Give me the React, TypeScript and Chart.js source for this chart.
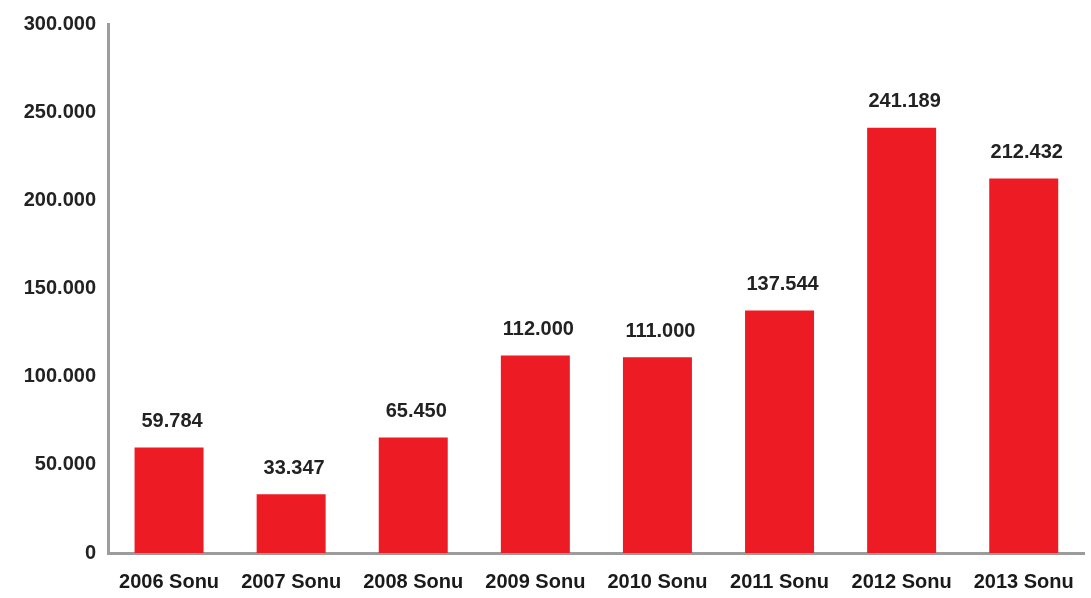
import React, { useEffect, useRef } from "react";
import { Chart, registerables } from "chart.js";

Chart.register(...registerables);

const categories = ["2006 Sonu", "2007 Sonu", "2008 Sonu", "2009 Sonu", "2010 Sonu", "2011 Sonu", "2012 Sonu", "2013 Sonu"];
const values = [59784, 33347, 65450, 112000, 111000, 137544, 241189, 212432];
const yMax = 300000;
const yStep = 50000;

const fmt = (v: number) => String(Math.round(v)).replace(/\B(?=(\d{3})+(?!\d))/g, ".");

const FONT = "'Liberation Sans', Arial, sans-serif";

const valueLabels = {
  id: "valueLabels",
  afterDatasetsDraw(chart: any) {
    const ctx = chart.ctx;
    const meta = chart.getDatasetMeta(0);
    ctx.save();
    ctx.font = `bold 20px ${FONT}`;
    ctx.fillStyle = "#222";
    ctx.textAlign = "center";
    ctx.textBaseline = "middle";
    meta.data.forEach((bar: any, i: number) => {
      ctx.fillText(fmt(values[i]), bar.x + 3, bar.y - 26);
    });
    ctx.restore();
  },
};

export default function App() {
  const ref = useRef<HTMLCanvasElement>(null);
  useEffect(() => {
    if (!ref.current) return;
    const chart = new Chart(ref.current, {
      type: "bar",
      data: {
        labels: categories,
        datasets: [
          {
            data: values,
            backgroundColor: "#ED1C24",
            barPercentage: 0.565,
            categoryPercentage: 1,
          },
        ],
      },
      options: {
        animation: false,
        responsive: false,
        maintainAspectRatio: false,
        layout: { padding: { top: 20, right: 4, left: 0, bottom: 0 } },
        plugins: { legend: { display: false }, tooltip: { enabled: false } },
        scales: {
          x: {
            grid: { display: false, drawTicks: false },
            border: { display: true, color: "#9c9c9c", width: 3 },
            ticks: {
              color: "#1a1a1a",
              font: { family: FONT, size: 20, weight: "bold" },
              padding: 17,
              maxRotation: 0,
              autoSkip: false,
            },
            afterFit: (s: any) => {
              s.height = 45;
            },
          },
          y: {
            min: 0,
            max: yMax,
            grid: { display: false, drawTicks: false },
            border: { display: true, color: "#9c9c9c", width: 3 },
            ticks: {
              stepSize: yStep,
              color: "#222",
              font: { family: FONT, size: 20, weight: "bold" },
              padding: 12,
              callback: (v: any) => fmt(Number(v)),
            },
            afterFit: (s: any) => {
              s.width = 108;
            },
          },
        },
      },
      plugins: [valueLabels],
    });
    return () => chart.destroy();
  }, []);
  return (
    <div style={{ position: "fixed", left: 0, top: 0, width: 1091, height: 598, background: "#fff" }}>
      <canvas ref={ref} width={1091} height={598} style={{ width: 1091, height: 598 }} />
    </div>
  );
}
